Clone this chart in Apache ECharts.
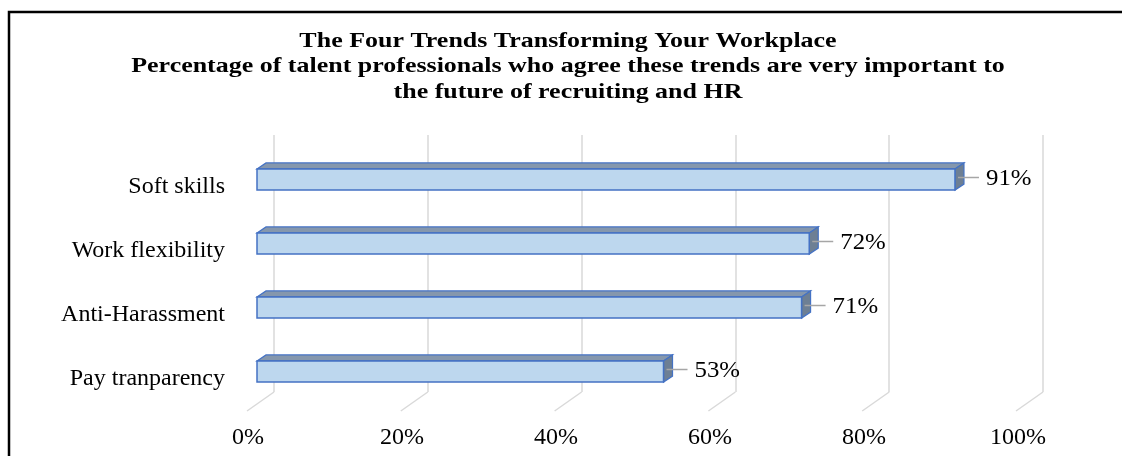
<!DOCTYPE html>
<html>
<head>
<meta charset="utf-8">
<script src="https://cdn.jsdelivr.net/npm/echarts@6/dist/echarts.min.js"></script>
<style>
  html, body { margin: 0; padding: 0; background: #fff; }
  #main { width: 1122px; height: 456px; }
</style>
</head>
<body>
<div id="main"></div>
<script>
// data
var categories = ['Soft skills', 'Work flexibility', 'Anti-Harassment', 'Pay tranparency'];
var values = [91, 72, 71, 53];
var tickValues = [0, 20, 40, 60, 80, 100];
var titleLines = [
  'The Four Trends Transforming Your Workplace',
  'Percentage of talent professionals who agree these trends are very important to',
  'the future of recruiting and HR'
];

var serif = '"Liberation Serif", "DejaVu Serif", serif';
var depthX = 9, depthY = 6; // bar 3d depth

var chart = echarts.init(document.getElementById('main'));

// 3d-ish bar, like the excel one
function renderBar(params, api) {
  var idx = api.value(1);
  var v = api.value(0);
  var start = api.coord([0, idx]);
  var end = api.coord([v, idx]);
  var h = api.size([0, 1])[1] * 0.33;
  var x0 = start[0], x1 = end[0], c = start[1];
  var yt = c - h / 2, yb = c + h / 2;
  var edge = '#4472c4';
  return {
    type: 'group',
    children: [
      {
        type: 'polygon',
        shape: { points: [[x0, yt], [x0 + depthX, yt - depthY], [x1 + depthX, yt - depthY], [x1, yt]] },
        style: { fill: '#8597ad', stroke: edge, lineWidth: 1.2 }
      },
      {
        type: 'polygon',
        shape: { points: [[x1, yt], [x1 + depthX, yt - depthY], [x1 + depthX, yb - depthY], [x1, yb]] },
        style: { fill: '#6d7f94', stroke: edge, lineWidth: 1.2 }
      },
      {
        type: 'rect',
        shape: { x: x0, y: yt, width: x1 - x0, height: h },
        style: { fill: '#bdd7ee', stroke: edge, lineWidth: 1.5 }
      },
      {
        type: 'line',
        shape: { x1: x1 + 3, y1: c - 2, x2: x1 + 24, y2: c - 2 },
        style: { stroke: '#a6a6a6', lineWidth: 1.5 }
      },
      {
        type: 'text',
        x: x1 + 31, y: c - 1, scaleX: 1.08,
        style: {
          text: v + '%',
          font: '23px ' + serif, fill: '#000',
          verticalAlign: 'middle', align: 'left'
        }
      }
    ]
  };
}

// floor lines going from back wall down-left
function renderFloor(params, api) {
  var p = api.coord([api.value(0), 0]);
  return {
    type: 'line',
    shape: { x1: p[0], y1: p[1], x2: p[0] - 27, y2: p[1] + 19 },
    style: { stroke: '#d9d9d9', lineWidth: 1.5 }
  };
}

// title is a bit stretched sideways in the source picture
var titleGraphics = titleLines.map(function (t, i) {
  return {
    type: 'text',
    x: 568, y: 41 + i * 25.5, scaleX: 1.18,
    style: {
      text: t, align: 'center', verticalAlign: 'middle',
      font: 'bold 22px ' + serif, fill: '#000'
    }
  };
});

var option = {
  backgroundColor: '#fff',
  animation: false,
  graphic: titleGraphics.concat([
    {
      type: 'rect',
      shape: { x: 9, y: 12, width: 1140, height: 470 },
      style: { fill: 'none', stroke: '#000', lineWidth: 2.5 },
      z: 10
    }
  ]),
  grid: [
    { left: 257, right: 98, top: 147.5, bottom: 52.5 },   // bar plane
    { left: 274, right: 79, top: 135, bottom: 64 },       // back wall
    { left: 248, right: 104, top: 135, bottom: 46 }       // floor front, for tick labels
  ],
  xAxis: [
    {
      gridIndex: 0, type: 'value', min: 0, max: 100, interval: 20,
      axisLine: { show: false }, axisTick: { show: false },
      axisLabel: { show: false }, splitLine: { show: false }
    },
    {
      gridIndex: 1, type: 'value', min: 0, max: 100, interval: 20,
      axisLine: { show: false }, axisTick: { show: false },
      axisLabel: { show: false },
      splitLine: { show: true, lineStyle: { color: '#d9d9d9', width: 1.5 } }
    },
    {
      gridIndex: 2, type: 'value', min: 0, max: 100, interval: 20,
      axisLine: { show: false }, axisTick: { show: false },
      splitLine: { show: false },
      axisLabel: {
        formatter: '{value}%', margin: 16,
        fontFamily: serif, fontSize: 24, color: '#000'
      }
    }
  ],
  yAxis: [
    {
      gridIndex: 0, type: 'category', data: categories, inverse: true,
      axisLine: { show: false }, axisTick: { show: false },
      axisLabel: {
        margin: 32, fontFamily: serif, fontSize: 24, color: '#000',
        verticalAlign: 'top', lineHeight: 14
      }
    },
    { gridIndex: 1, type: 'value', min: 0, max: 1, show: false },
    { gridIndex: 2, type: 'value', min: 0, max: 1, show: false }
  ],
  series: [
    {
      type: 'custom', xAxisIndex: 1, yAxisIndex: 1,
      renderItem: renderFloor,
      data: tickValues.map(function (t) { return [t]; }),
      silent: true, z: 1
    },
    {
      type: 'custom', xAxisIndex: 0, yAxisIndex: 0,
      renderItem: renderBar,
      encode: { x: 0, y: 1 },
      data: values.map(function (v, i) { return [v, i]; }),
      z: 5
    }
  ]
};

chart.setOption(option);
</script>
</body>
</html>
